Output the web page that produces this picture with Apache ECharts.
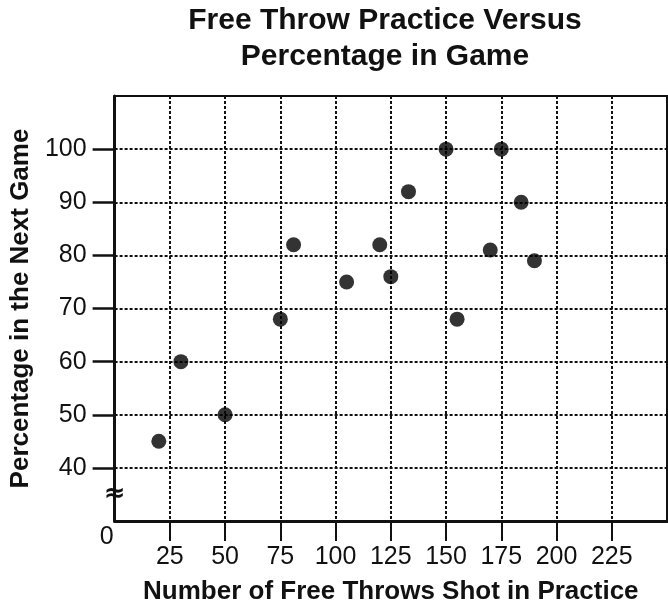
<!DOCTYPE html>
<html>
<head>
<meta charset="utf-8">
<title>Free Throw Practice Versus Percentage in Game</title>
<script src="https://cdn.jsdelivr.net/npm/echarts@6/dist/echarts.min.js"></script>
<style>
  html, body { margin: 0; padding: 0; background: #fff; }
  #chart { width: 668px; height: 610px; }
</style>
</head>
<body>
<div id="chart"></div>
<script>
// free throws shot in practice
var practiceShots = [20, 30, 50, 75, 81, 105, 120, 125, 133, 150, 155, 170, 175, 184, 190]
// percentage made in the next game
var gamePercent = [45, 60, 50, 68, 82, 75, 82, 76, 92, 100, 68, 81, 100, 90, 79]

var xTicks = [25, 50, 75, 100, 125, 150, 175, 200, 225]
var yTicks = [40, 50, 60, 70, 80, 90, 100]

var font = 'Liberation Sans, Arial, Helvetica, sans-serif'
var ink = '#111'

var points = practiceShots.map(function (x, i) {
  return [x, gamePercent[i]]
})

var chart = echarts.init(document.getElementById('chart'))

chart.setOption({
  backgroundColor: '#fff',
  animation: false,
  title: {
    text: 'Free Throw Practice Versus\nPercentage in Game',
    left: 380,
    top: -2,
    textAlign: 'center',
    textStyle: {
      fontFamily: font,
      fontSize: 30,
      fontWeight: 'bold',
      lineHeight: 36,
      color: ink
    }
  },
  grid: {
    left: 110,
    right: 1,
    top: 96,
    bottom: 88,
    show: true,
    borderColor: ink,
    borderWidth: 2,
    backgroundColor: 'transparent'
  },
  xAxis: {
    type: 'value',
    min: 0,
    max: 250,
    interval: 25,
    name: 'Number of Free Throws Shot in Practice',
    nameLocation: 'middle',
    nameGap: 58,
    nameTextStyle: { fontFamily: font, fontSize: 26, fontWeight: 'bold', color: ink },
    axisLine: { lineStyle: { color: ink, width: 3 } },
    axisTick: { length: 20, customValues: xTicks, lineStyle: { color: ink, width: 2 } },
    axisLabel: { customValues: xTicks, fontFamily: font, fontSize: 25, margin: 24, color: ink },
    splitLine: { show: true, lineStyle: { color: ink, width: 2, type: [3, 2] } }
  },
  yAxis: {
    type: 'value',
    min: 30,
    max: 110,
    interval: 10,
    name: 'Percentage in the Next Game',
    nameLocation: 'middle',
    nameGap: 71,
    nameTextStyle: { fontFamily: font, fontSize: 26, fontWeight: 'bold', color: ink },
    axisLine: { lineStyle: { color: ink, width: 3 } },
    axisTick: { length: 22, customValues: yTicks, lineStyle: { color: ink, width: 2.5 } },
    axisLabel: { customValues: yTicks, fontFamily: font, fontSize: 25, margin: 28, color: ink },
    splitLine: { show: true, lineStyle: { color: ink, width: 2, type: [3, 2] } }
  },
  series: [{
    type: 'scatter',
    data: points,
    symbol: 'circle',
    symbolSize: 15,
    itemStyle: { color: '#000' },
    z: 5
  }]
})

// broken axis marks: "0" at origin and the break sign on the y axis
var origin = chart.convertToPixel({ gridIndex: 0 }, [0, 30])
var breakPos = chart.convertToPixel({ gridIndex: 0 }, [0, 35])

chart.setOption({
  graphic: [
    {
      type: 'text',
      x: origin[0] - 8,
      y: origin[1] + 16,
      style: {
        text: '0', fontFamily: font, fontSize: 25, fill: ink,
        align: 'center', verticalAlign: 'middle'
      }
    },
    {
      type: 'text',
      x: breakPos[0],
      y: breakPos[1],
      z: 10,
      style: {
        text: '≈', fontFamily: 'DejaVu Sans, sans-serif', fontSize: 26, fontWeight: 'bold', fill: ink,
        align: 'center', verticalAlign: 'middle'
      }
    }
  ]
})
</script>
</body>
</html>
